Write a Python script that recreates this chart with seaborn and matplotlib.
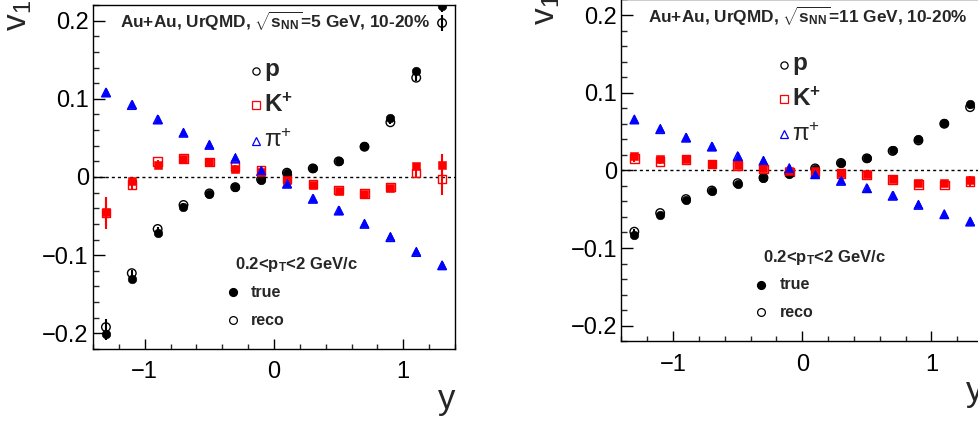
import matplotlib
matplotlib.use("Agg")
import matplotlib.pyplot as plt
import numpy as np
import pandas as pd
import seaborn as sns
from matplotlib.ticker import MultipleLocator, FuncFormatter

# Rapidity bin centres
rapidity = [-1.3, -1.1, -0.9, -0.7, -0.5, -0.3, -0.1, 0.1, 0.3, 0.5, 0.7, 0.9, 1.1, 1.3]

# sqrt(s_NN) = 5 GeV, 10-20% centrality
p5_true = [-0.2005, -0.130, -0.072, -0.0388, -0.0213, -0.0133, -0.0043, 0.005, 0.0115, 0.0208, 0.040, 0.0753, 0.135, 0.219]
p5_reco = [-0.192, -0.123, -0.0665, -0.0358, -0.021, -0.013, -0.003, 0.0055, 0.011, 0.020, 0.0387, 0.070, 0.127, 0.197]
k5_true = [-0.0444, -0.0056, 0.0157, 0.023, 0.0187, 0.0106, 0.006, -0.0035, -0.0098, -0.0175, -0.0213, -0.0145, 0.0135, 0.0148]
k5_reco = [-0.046, -0.0098, 0.020, 0.024, 0.019, 0.0136, 0.008, -0.002, -0.009, -0.0165, -0.021, -0.013, 0.005, -0.0026]
pi5_true = [0.109, 0.093, 0.0745, 0.0575, 0.042, 0.025, 0.0085, -0.0077, -0.027, -0.042, -0.059, -0.076, -0.095, -0.112]
pi5_reco = [0.108, 0.092, 0.0735, 0.0565, 0.041, 0.0235, 0.0075, -0.0087, -0.028, -0.043, -0.060, -0.077, -0.096, -0.113]

p5_true_err = [0.008, 0.003, 0.002, 0.002, 0.002, 0.002, 0.002, 0.002, 0.002, 0.002, 0.002, 0.002, 0.003, 0.008]
p5_reco_err = [0.010, 0.004, 0.002, 0.002, 0.002, 0.002, 0.002, 0.002, 0.002, 0.002, 0.002, 0.002, 0.004, 0.010]
k5_true_err = [0.0175, 0.004, 0.002, 0.002, 0.002, 0.002, 0.002, 0.002, 0.002, 0.002, 0.002, 0.002, 0.004, 0.014]
k5_reco_err = [0.020, 0.005, 0.002, 0.002, 0.002, 0.002, 0.002, 0.002, 0.002, 0.002, 0.002, 0.002, 0.005, 0.020]
pi5_err = [0.002] * 14

# sqrt(s_NN) = 11 GeV, 10-20% centrality
p11_true = [-0.0836, -0.058, -0.0386, -0.027, -0.017, -0.0099, -0.0043, 0.0022, 0.0099, 0.0158, 0.0257, 0.0407, 0.0613, 0.0857]
p11_reco = [-0.079, -0.055, -0.037, -0.026, -0.0165, -0.0095, -0.004, 0.0025, 0.0095, 0.0155, 0.025, 0.0386, 0.060, 0.0814]
k11_true = [0.018, 0.015, 0.015, 0.0086, 0.0073, 0.003, -0.0013, -0.0009, -0.003, -0.0051, -0.0116, -0.0167, -0.0167, -0.0129]
k11_reco = [0.0152, 0.0116, 0.014, 0.008, 0.006, 0.002, -0.002, -0.002, -0.004, -0.006, -0.012, -0.018, -0.019, -0.014]
pi11_true = [0.0664, 0.054, 0.0428, 0.0312, 0.019, 0.0129, 0.0035, -0.0043, -0.0129, -0.0223, -0.032, -0.0437, -0.0557, -0.065]
pi11_reco = [0.0655, 0.053, 0.042, 0.0305, 0.0182, 0.0122, 0.0028, -0.005, -0.0136, -0.023, -0.0328, -0.0445, -0.0565, -0.066]

p11_err = [0.003, 0.002, 0.002, 0.002, 0.002, 0.002, 0.002, 0.002, 0.002, 0.002, 0.002, 0.002, 0.002, 0.003]
k11_err = [0.004, 0.003, 0.002, 0.002, 0.002, 0.002, 0.002, 0.002, 0.002, 0.002, 0.002, 0.002, 0.003, 0.006]
pi11_err = [0.002] * 14

energies = ["5", "11"]

sns.set_theme(style="white")
plt.rcParams["font.family"] = ["Liberation Sans", "DejaVu Sans"]
plt.rcParams["mathtext.fontset"] = "custom"
plt.rcParams["mathtext.rm"] = "Liberation Sans"
plt.rcParams["mathtext.it"] = "Liberation Sans:italic"
plt.rcParams["mathtext.bf"] = "Liberation Sans:bold"
plt.rcParams["axes.edgecolor"] = "black"
plt.rcParams["axes.linewidth"] = 1.0

RED = "#ff0000"
BLUE = "#0000ff"
BLACK = "#000000"
MSIZE = 38


def minus_fmt(v, pos):
    if abs(v) < 1e-9:
        return "0"
    s = f"{v:g}"
    return s.replace("-", "\u2212")


def draw_panel(ax, energy, series):
    # series: list of (name, values, errors, marker, colour, filled)
    frame = []
    for name, vals, errs, marker, col, filled in series:
        frame.append(pd.DataFrame({"y": rapidity, "v1": vals, "err": errs, "set": name}))
    data = pd.concat(frame, ignore_index=True)

    ax.axhline(0, color="black", lw=1.0, ls=(0, (2.2, 2.2)), zorder=1)

    z = 2
    for name, vals, errs, marker, col, filled in series:
        sub = data[data["set"] == name]
        ax.errorbar(sub["y"], sub["v1"], yerr=sub["err"], fmt="none",
                    ecolor=col, elinewidth=1.5, capsize=0, zorder=z)
        if filled:
            sns.scatterplot(data=sub, x="y", y="v1", ax=ax, marker=marker,
                            s=MSIZE, color=col, edgecolor=col, linewidth=0.4,
                            zorder=z + 1, legend=False)
        else:
            sns.scatterplot(data=sub, x="y", y="v1", ax=ax, marker=marker,
                            s=MSIZE, color=col, facecolor="none", edgecolor=col,
                            linewidth=1.0, zorder=z + 1, legend=False)
        z += 2

    ax.set_xlim(-1.4, 1.4)
    ax.set_ylim(-0.22, 0.22)
    ax.xaxis.set_major_locator(MultipleLocator(1.0))
    ax.xaxis.set_minor_locator(MultipleLocator(0.2))
    ax.yaxis.set_major_locator(MultipleLocator(0.1))
    ax.yaxis.set_minor_locator(MultipleLocator(0.02))
    ax.xaxis.set_major_formatter(FuncFormatter(minus_fmt))
    ax.yaxis.set_major_formatter(FuncFormatter(minus_fmt))
    ax.tick_params(axis="x", which="major", direction="in", length=7.2, width=1.0,
                   labelsize=17, pad=9, bottom=True, top=False, colors="black")
    ax.tick_params(axis="x", which="minor", direction="in", length=3.6, width=1.0,
                   bottom=True, top=False)
    ax.tick_params(axis="y", which="major", direction="in", length=8.4, width=1.0,
                   labelsize=17, pad=3, left=True, right=False, colors="black")
    ax.tick_params(axis="y", which="minor", direction="in", length=4.3, width=1.0,
                   left=True, right=False)
    for sp in ax.spines.values():
        sp.set_visible(True)
        sp.set_color("black")
        sp.set_linewidth(1.0)
    ax.set_xlabel("")
    ax.set_ylabel("")

    ax.text(1.0, -0.175, "y", transform=ax.transAxes, ha="right", va="baseline",
            fontsize=25)
    ax.text(-0.207, 1.015, "v$_{1}$", transform=ax.transAxes, ha="center",
            va="top", rotation=90, fontsize=24)

    ax.text(0.074, 0.932,
            "Au+Au, UrQMD, $\\sqrt{\\mathbf{s}_{\\mathbf{NN}}}$=" + energy + " GeV, 10-20%",
            transform=ax.transAxes, ha="left", va="baseline", fontsize=12.4,
            fontweight="bold")

    # species key
    mx, tx = 0.449, 0.472
    keys = [("o", BLACK, 0.808, "$\\mathbf{p}$", "bold"),
            ("s", RED, 0.709, "$\\mathbf{K^{+}}$", "bold"),
            ("^", BLUE, 0.605, "$\\mathrm{\\pi}^{+}$", "normal")]
    for mk, col, yy, lab, fw in keys:
        ax.plot([mx], [yy], transform=ax.transAxes, marker=mk, ms=5.2,
                mfc="none", mec=col, mew=0.9, ls="none", clip_on=False)
        ax.text(tx, yy, lab, transform=ax.transAxes, ha="left", va="center",
                fontsize=17.5, fontweight=fw)

    # true / reco key
    ax.text(0.392, 0.245, "0.2<p$_{\\mathbf{T}}$<2 GeV/c", transform=ax.transAxes,
            ha="left", va="center", fontsize=12, fontweight="bold")
    ax.plot([0.387], [0.165], transform=ax.transAxes, marker="o", ms=5.6,
            mfc=BLACK, mec=BLACK, ls="none")
    ax.text(0.437, 0.165, "true", transform=ax.transAxes, ha="left", va="center",
            fontsize=11.5, fontweight="bold")
    ax.plot([0.387], [0.084], transform=ax.transAxes, marker="o", ms=5.6,
            mfc="none", mec=BLACK, mew=0.9, ls="none")
    ax.text(0.437, 0.084, "reco", transform=ax.transAxes, ha="left", va="center",
            fontsize=11.5, fontweight="bold")


fig = plt.figure(figsize=(9.79, 4.24), dpi=100)
ax_l = fig.add_axes([0.09499, 0.17689, 0.36977, 0.81132])
ax_r = fig.add_axes([0.63473, 0.19528, 0.36936, 0.80590])

panels = [
    (ax_l, energies[0], [
        ("p reco", p5_reco, p5_reco_err, "o", BLACK, False),
        ("K reco", k5_reco, k5_reco_err, "s", RED, False),
        ("pi reco", pi5_reco, pi5_err, "^", BLUE, False),
        ("p true", p5_true, p5_true_err, "o", BLACK, True),
        ("K true", k5_true, k5_true_err, "s", RED, True),
        ("pi true", pi5_true, pi5_err, "^", BLUE, True),
    ]),
    (ax_r, energies[1], [
        ("p reco", p11_reco, p11_err, "o", BLACK, False),
        ("K reco", k11_reco, k11_err, "s", RED, False),
        ("pi reco", pi11_reco, pi11_err, "^", BLUE, False),
        ("p true", p11_true, p11_err, "o", BLACK, True),
        ("K true", k11_true, k11_err, "s", RED, True),
        ("pi true", pi11_true, pi11_err, "^", BLUE, True),
    ]),
]
for ax, en, ser in panels:
    draw_panel(ax, en, ser)

fig.savefig("out.png", dpi=100, facecolor="white")
